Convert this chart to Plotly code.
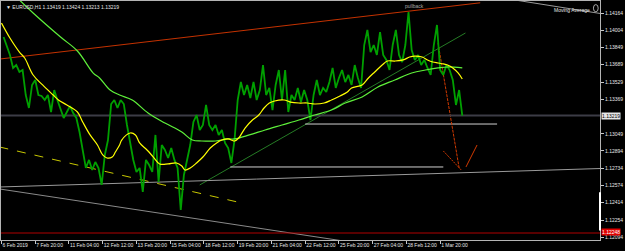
import plotly.graph_objects as go

# ---- data (bar index = H1 bars from left edge, prices) ----
bars = list(range(2, 438, 3))
close = [1.13945,1.13871,1.13779,1.13659,1.13686,1.13622,1.13640,1.13409,1.13289,1.13502,
 1.13548,1.13409,1.13400,1.13363,1.13409,1.13252,1.13455,1.13363,1.13289,1.13197,
 1.13252,1.13307,1.13243,1.13197,1.13067,1.12901,1.12735,1.12809,1.12716,1.12790,
 1.12735,1.12578,1.12855,1.12993,1.13326,1.13363,1.13289,1.13363,1.13326,1.13132,
 1.12975,1.12809,1.12698,1.12735,1.12513,1.12809,1.12762,1.12698,1.13040,1.12605,
 1.12947,1.12901,1.12827,1.12919,1.12809,1.12735,1.12347,1.12670,1.12809,1.12947,
 1.13160,1.13224,1.13086,1.13132,1.13317,1.13132,1.13086,1.13132,1.13040,1.13086,
 1.12966,1.12919,1.12781,1.12993,1.13363,1.13529,1.13409,1.13502,1.13381,1.13529,
 1.13363,1.13455,1.13686,1.13409,1.13474,1.13270,1.13502,1.13640,1.13363,1.13640,
 1.13252,1.13409,1.13363,1.13474,1.13344,1.13455,1.13363,1.13178,1.13409,1.13548,
 1.13409,1.13474,1.13437,1.13529,1.13659,1.13474,1.13566,1.13640,1.13529,1.13594,
 1.13502,1.13686,1.13566,1.13474,1.13871,1.14010,1.13806,1.13871,1.13779,1.13991,
 1.13779,1.13733,1.13640,1.13871,1.14010,1.13779,1.13714,1.13871,1.14176,1.13825,
 1.13733,1.13779,1.13686,1.13733,1.13659,1.13594,1.13871,1.14056,1.13640,1.13594,
 1.13686,1.13640,1.13548,1.13317,1.13455,1.13219]

ma_fast_bar = [0,8,17,22,30,39,49,54,62,72,77,84,91,96,100,105,108,112,114,122,127,131,138,144,
 150,158,166,171,174,179,185,191,198,204,209,215,221,225,231,238,244,249,254,259,268,274,282,
 290,297,306,313,321,328,332,342,348,354,361,366,373,381,387,392,399,404,409,414,419,423,428,433,437]
ma_fast = [1.14074,1.13936,1.13806,1.13751,1.13594,1.13502,1.13409,1.13363,1.13317,1.13252,1.13160,
 1.13040,1.12947,1.12855,1.12827,1.12836,1.12882,1.12947,1.12993,1.13058,1.13040,1.12966,1.12901,
 1.12836,1.12772,1.12772,1.12781,1.12753,1.12716,1.12735,1.12781,1.12836,1.12919,1.12966,1.12993,
 1.13003,1.12984,1.13012,1.13104,1.13178,1.13224,1.13289,1.13335,1.13354,1.13363,1.13344,1.13335,
 1.13335,1.13326,1.13335,1.13363,1.13400,1.13437,1.13474,1.13502,1.13566,1.13622,1.13686,1.13723,
 1.13723,1.13733,1.13760,1.13769,1.13760,1.13733,1.13714,1.13705,1.13696,1.13686,1.13659,1.13613,1.13557]

ma_slow_bar = [17,30,56,72,87,93,103,112,124,139,155,171,181,190,203,215,221,235,250,266,282,297,
 313,326,342,357,373,389,402,414,423,437]
ma_slow = [1.14287,1.14167,1.13945,1.13816,1.13612,1.13566,1.13455,1.13409,1.13363,1.13243,1.13150,
 1.13067,1.12993,1.12984,1.12984,1.13003,1.13003,1.13040,1.13086,1.13132,1.13178,1.13224,1.13270,
 1.13335,1.13391,1.13483,1.13548,1.13612,1.13640,1.13659,1.13668,1.13659]

x_tick_bars = [0,32,64,96,128,160,192,224,256,288,320,352,384,416]
x_tick_text = ["6 Feb 2019","7 Feb 20:00","11 Feb 04:00","12 Feb 12:00","13 Feb 20:00",
 "15 Feb 04:00","18 Feb 12:00","19 Feb 20:00","21 Feb 04:00","22 Feb 12:00",
 "25 Feb 20:00","27 Feb 04:00","28 Feb 12:00","1 Mar 20:00"]
y_ticks = [1.14164,1.14004,1.13849,1.13689,1.13529,1.13369,1.13049,1.12894,
 1.12734,1.12574,1.12414,1.12254,1.12094]
y_tick_text = ["%.5f" % v for v in y_ticks]

bid = 1.13219
alert_line = 1.12134
alert_text = "1.12248"
title_text = "\u25BC EURUSD,H1 1.13419 1.13424 1.13213 1.13219"

# drawn objects: (x0, x1), (y0, y1), colour, dash, width
objects = [
    ((-2, 454), (1.13741, 1.14261), "#c43200", "solid", 1),       # upper channel line
    ((188, 440), (1.12578, 1.13982), "#2f9a2f", "solid", 0.8),    # green trendline
    ((-2, 224), (1.12929, 1.12420), "#c8c800", "dash", 1),        # yellow dashed
    ((-2, 568), (1.12559, 1.12730), "#9a9a9a", "solid", 1),       # gray support
    ((-2, 321), (1.12541, 1.12065), "#8a8a8a", "solid", 1),       # gray falling
    ((217, 419), (1.12744, 1.12744), "#d0d0d0", "solid", 1),      # white level
    ((288, 470), (1.13141, 1.13141), "#d0d0d0", "solid", 1),      # white level
    ((487, 568), (1.14287, 1.14162), "#9a9a9a", "solid", 1),      # top right line
    ((414, 434), (1.13890, 1.12735), "#d23a00", "3px,1px", 1),    # drop arrow
    ((419, 436), (1.12892, 1.12716), "#d23a00", "2px,1px", 1),
    ((440.5, 451), (1.12744, 1.12947), "#d23a00", "solid", 1),
]

fig = go.Figure()

for (xs, ys, col, dash, w) in objects:
    fig.add_trace(go.Scatter(x=list(xs), y=list(ys), mode="lines",
                             line=dict(color=col, dash=dash, width=w), hoverinfo="skip"))

x_min, x_max = -0.47, 567.6
for yv, col, w in [(bid, "#3c3c46", 2), (alert_line, "#b00000", 1)]:
    fig.add_trace(go.Scatter(x=[x_min, x_max], y=[yv, yv], mode="lines",
                             line=dict(color=col, width=w), hoverinfo="skip"))

fig.add_trace(go.Scatter(x=bars, y=close, mode="lines",
                         line=dict(color="#00a000", width=1.8), hoverinfo="skip"))
fig.add_trace(go.Scatter(x=ma_slow_bar, y=ma_slow, mode="lines",
                         line=dict(color="#5ef03a", width=1.2, shape="spline"), hoverinfo="skip"))
fig.add_trace(go.Scatter(x=ma_fast_bar, y=ma_fast, mode="lines",
                         line=dict(color="#ffff00", width=1.2, shape="spline"), hoverinfo="skip"))

fam = "Liberation Sans, Arial, sans-serif"
font = dict(family=fam, size=5, color="#e6e6e6")

fig.update_layout(
    width=625, height=251,
    margin=dict(l=1, r=25, t=1, b=11),
    paper_bgcolor="black", plot_bgcolor="black",
    showlegend=False,
    font=font,
    xaxis=dict(range=[x_min, x_max], tickvals=x_tick_bars, ticktext=x_tick_text,
               ticks="outside", ticklen=3, tickcolor="#c8c8c8", tickwidth=1, tickangle=0,
               automargin=False,
               ticklabelposition="outside right", showgrid=False, zeroline=False,
               showline=True, linecolor="#b4b4b4", linewidth=1, mirror=True,
               tickfont=font),
    yaxis=dict(range=[1.120693, 1.142777], side="right", tickvals=y_ticks, ticktext=y_tick_text,
               ticks="outside", ticklen=3, tickcolor="#c8c8c8", showgrid=False, zeroline=False,
               automargin=False,
               showline=True, linecolor="#b4b4b4", linewidth=1, mirror=True, tickfont=font),
)

fig.add_annotation(xref="paper", yref="paper", x=0.005, y=0.995, xanchor="left", yanchor="top",
                   text=title_text, showarrow=False, font=font)
fig.add_annotation(xref="x", yref="paper", x=392, y=1.0, xanchor="center", yanchor="top",
                   text="pullback", showarrow=False, font=dict(family=fam, size=5, color="#a8a8a8"))
fig.add_annotation(xref="paper", yref="paper", x=0.986, y=0.985, xanchor="right", yanchor="top",
                   text="Moving Average", showarrow=False, font=font)
fig.add_shape(type="circle", xref="paper", yref="paper", x0=0.989, x1=0.997, y0=0.955, y1=0.985,
              line=dict(color="#d0d0d0", width=0.8))
fig.add_annotation(xref="paper", yref="y", x=1.0, y=bid, xanchor="left", yanchor="middle",
                   text="%.5f" % bid, showarrow=False, bgcolor="#e6e6e6", borderpad=0,
                   font=dict(family=fam, size=5, color="black"), xshift=1)
fig.add_annotation(xref="paper", yref="y", x=1.0, y=alert_line, xanchor="left", yanchor="middle",
                   text=alert_text, showarrow=False, bgcolor="#e00000", borderpad=0,
                   font=dict(family=fam, size=5, color="white"), xshift=1, yshift=1)
fig.add_shape(type="line", xref="paper", yref="paper", x0=1.0, x1=1.0, y0=0.04, y1=0.2,
              line=dict(color="white", width=2))

fig.write_html("out.html")
